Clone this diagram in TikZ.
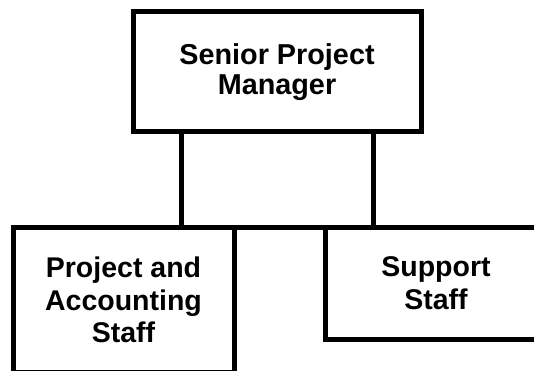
\documentclass[tikz,border=0pt]{standalone}
\usepackage{fontspec}
\setmainfont{Liberation Sans}
\begin{document}
\begin{tikzpicture}[
        x=1pt, y=1pt,
        box/.style = {draw, line width=5pt, outer sep=0pt, inner sep=0pt, align=center,
            font=\bfseries\fontsize{28.5}{32.5}\selectfont},
        link/.style = {line width=5pt}
    ]
        \useasboundingbox (0,0) rectangle (534,370);
        \clip (0,0) rectangle (534,370);
        \node[box, minimum width=288, minimum height=119.5,
            font=\bfseries\fontsize{28.8}{30}\selectfont] (mgr) at (277,298.25) {Senior Project\\Manager};
        \node[box, minimum width=221, minimum height=145] (acct) at (123.5,70) {Project and\\Accounting\\Staff};
        \node[box, minimum width=221.4, minimum height=111.8] (supp) at (436,86.6) {Support\\Staff};
        \draw[link] ([xshift=-96pt]mgr.south) -- ([xshift=-96pt]mgr.south |- acct.north);
        \draw[link] ([xshift=96pt]mgr.south) -- ([xshift=96pt]mgr.south |- supp.north);
        \draw[link] (acct.north east) -- (supp.north west);
    \end{tikzpicture}
\end{document}
